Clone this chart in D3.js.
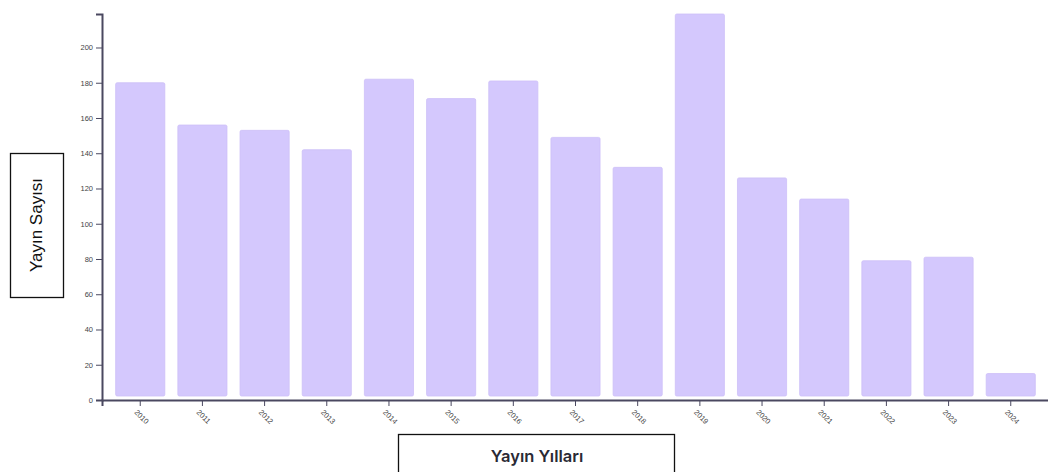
<!DOCTYPE html>
<html><head><meta charset="utf-8">
<script src="https://cdn.jsdelivr.net/npm/d3@7"></script>
<style>
body{margin:0;background:#fff;overflow:hidden}
svg{display:block}
.axis text{font-family:"Liberation Sans",Arial,sans-serif;font-size:7.5px;fill:#444}
.axis path,.axis line{stroke:#4a4860}
.axis path{stroke-width:2}
</style></head><body>
<svg id="chart" width="1048" height="472"></svg>
<script>
const years = ["2010","2011","2012","2013","2014","2015","2016","2017","2018","2019","2020","2021","2022","2023","2024"];
const counts = [180,156,153,142,182,171,181,149,132,219,126,114,79,81,15];
const yTicks = [0,20,40,60,80,100,120,140,160,180,200];

const svg = d3.select("#chart");
const mLeft = 102, mTop = 14, mBottom = 400, mRight = 1049;

const x = d3.scaleBand().domain(years).range([mLeft, mRight]).paddingInner(0.21).paddingOuter(0.22);
const y = d3.scaleLinear().domain([0, d3.max(counts)]).range([mBottom, mTop]);

svg.append("g").selectAll("rect").data(years).join("rect")
  .attr("x", d => x(d))
  .attr("y", (d,i) => y(counts[i]))
  .attr("width", x.bandwidth())
  .attr("height", (d,i) => y(0) - y(counts[i]) - 4)
  .attr("rx", 1.5)
  .attr("fill", "#d4c8fd")
  .attr("stroke", "#cdbff7")
  .attr("stroke-width", 0.8);

svg.append("g").attr("class","axis").attr("transform",`translate(${mLeft},0)`)
  .call(d3.axisLeft(y).tickValues(yTicks));

const gx = svg.append("g").attr("class","axis").attr("transform",`translate(0,${mBottom})`)
  .call(d3.axisBottom(x));
gx.selectAll("text")
  .attr("text-anchor","start")
  .attr("transform","rotate(45)")
  .attr("dx","0.6em").attr("dy","0.6em");

// Y title box
svg.append("rect").attr("x",10.5).attr("y",153.5).attr("width",53).attr("height",144)
  .attr("fill","#fff").attr("stroke","#111").attr("stroke-width",1.3);
svg.append("text").attr("transform","translate(42,225) rotate(-90)")
  .attr("text-anchor","middle")
  .attr("font-family","Liberation Sans, Arial, sans-serif").attr("font-size",17).attr("fill","#111")
  .text("Yayın Sayısı");

// X title box
svg.append("rect").attr("x",398.5).attr("y",434.5).attr("width",276).attr("height",50)
  .attr("fill","#fff").attr("stroke","#111").attr("stroke-width",1.3);
svg.append("text").attr("x",537).attr("y",462)
  .attr("text-anchor","middle")
  .attr("font-family","Inter, sans-serif").attr("font-size",16.5).attr("font-weight",600).attr("fill","#2a2a35")
  .text("Yayın Yılları");
</script>
</body></html>
